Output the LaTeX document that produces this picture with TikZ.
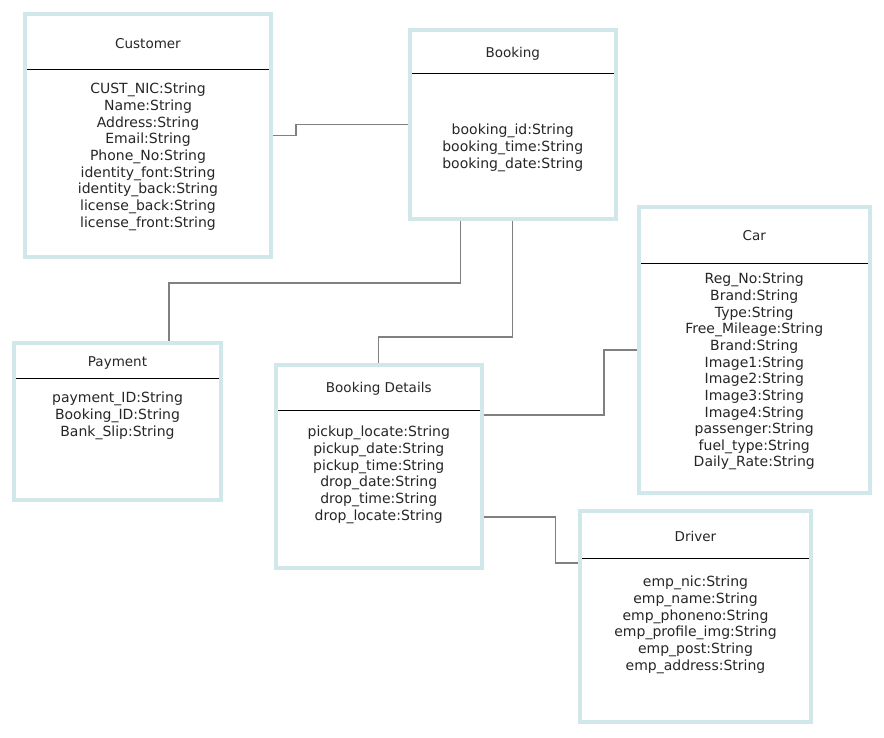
\documentclass[tikz,border=0pt]{standalone}
\usepackage{fontspec}
\setmainfont{DejaVu Sans}
\definecolor{boxc}{RGB}{208,232,234}
\definecolor{conn}{RGB}{128,128,128}
\tikzset{
  entity/.style={draw=boxc, line width=4pt, rectangle, inner sep=0pt, outer sep=0pt, fill=white},
  ttl/.style={font=\fontsize{13.5}{16}\selectfont, inner sep=0pt, text=black!85},
  attrs/.style={font=\fontsize{14}{16.65}\selectfont, align=center, inner sep=0pt, anchor=north, text=black!85},
  hline/.style={draw=black, line width=1pt, shorten <=2pt, shorten >=2pt},
  link/.style={draw=conn, line width=1.3pt}
}
\begin{document}
\begin{tikzpicture}[x=1pt,y=-1pt]
\useasboundingbox[fill=white] (0,0) rectangle (884,737);

% Customer
\node[entity, minimum width=246pt, minimum height=243pt] (cust) at (148,135.5) {};
\draw[hline] (cust.west |- 0,69) -- (cust.east |- 0,69);
\node[ttl] (custT) at (148,44) {Customer};
\node[attrs] (custA) at (148,83) {CUST\_NIC:String\\Name:String\\Address:String\\Email:String\\Phone\_No:String\\identity\_font:String\\identity\_back:String\\license\_back:String\\license\_front:String};

% Booking
\node[entity, minimum width=206.5pt, minimum height=189pt] (book) at (512.75,124.5) {};
\draw[hline] (book.west |- 0,73) -- (book.east |- 0,73);
\node[ttl] (bookT) at (512.75,54) {Booking};
\node[attrs] (bookA) at (512.75,124) {booking\_id:String\\booking\_time:String\\booking\_date:String};

% Car
\node[entity, minimum width=230.5pt, minimum height=286pt] (car) at (754.25,350) {};
\draw[hline] (car.west |- 0,263) -- (car.east |- 0,263);
\node[ttl] (carT) at (754.25,236) {Car};
\node[attrs] (carA) at (754.25,273) {Reg\_No:String\\Brand:String\\Type:String\\Free\_Mileage:String\\Brand:String\\Image1:String\\Image2:String\\Image3:String\\Image4:String\\passenger:String\\fuel\_type:String\\Daily\_Rate:String};

% Payment
\node[entity, minimum width=207pt, minimum height=157pt] (pay) at (117.5,421.5) {};
\draw[hline] (pay.west |- 0,378) -- (pay.east |- 0,378);
\node[ttl] (payT) at (117.5,363) {Payment};
\node[attrs] (payA) at (117.5,392) {payment\_ID:String\\Booking\_ID:String\\Bank\_Slip:String};

% Booking Details
\node[entity, minimum width=205.5pt, minimum height=203pt] (bd) at (378.75,466.5) {};
\draw[hline] (bd.west |- 0,410) -- (bd.east |- 0,410);
\node[ttl] (bdT) at (378.75,389) {Booking Details};
\node[attrs] (bdA) at (378.75,426) {pickup\_locate:String\\pickup\_date:String\\pickup\_time:String\\drop\_date:String\\drop\_time:String\\drop\_locate:String};

% Driver
\node[entity, minimum width=231pt, minimum height=211pt] (drv) at (695.5,616.5) {};
\draw[hline] (drv.west |- 0,558) -- (drv.east |- 0,558);
\node[ttl] (drvT) at (695.5,536) {Driver};
\node[attrs] (drvA) at (695.5,576) {emp\_nic:String\\emp\_name:String\\emp\_phoneno:String\\emp\_profile\_img:String\\emp\_post:String\\emp\_address:String};

% connectors
\draw[link] ([xshift=2pt]cust.east) -- ++(23,0) |- ([xshift=-2pt]book.west);
\draw[link] ([xshift=-52pt,yshift=-2pt]book.south) -- ++(0,62) -| ([xshift=51.5pt,yshift=2pt]pay.north);
\draw[link] ([yshift=-2pt]book.south) -- ++(0,116) -| ([yshift=2pt]bd.north);
\draw[link] ([xshift=2pt,yshift=51.5pt]bd.east) -- ++(120.5,0) |- ([xshift=-2pt]car.west);
\draw[link] ([xshift=2pt,yshift=-50.5pt]bd.east) -- ++(72,0) |- ([xshift=-2pt,yshift=53.5pt]drv.west);
\end{tikzpicture}
\end{document}
